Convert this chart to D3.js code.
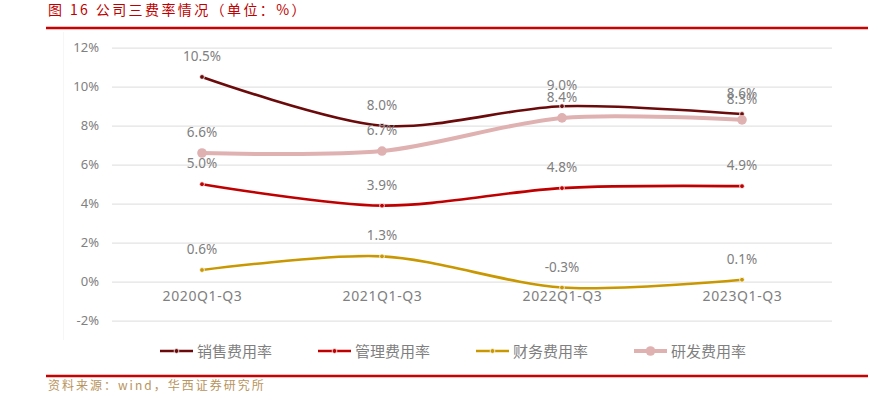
<!DOCTYPE html>
<html>
<head>
<meta charset="utf-8">
<script src="https://cdn.jsdelivr.net/npm/d3@7"></script>
<style>
  body { margin: 0; background: #fff; }
  svg { display: block; }
  text { font-family: "Noto Sans", "Noto Sans CJK SC", sans-serif; }
  .cjk { font-family: "Noto Sans CJK SC", sans-serif; }
</style>
</head>
<body>
<div class="svg-content"></div>
<script>
const periods = ["2020Q1-Q3", "2021Q1-Q3", "2022Q1-Q3", "2023Q1-Q3"];
const salesRate = [10.5, 8.0, 9.0, 8.6];
const adminRate = [5.0, 3.9, 4.8, 4.9];
const financeRate = [0.6, 1.3, -0.3, 0.1];
const rdRate = [6.6, 6.7, 8.4, 8.3];
const seriesNames = ["销售费用率", "管理费用率", "财务费用率", "研发费用率"];
const yTicks = [-2, 0, 2, 4, 6, 8, 10, 12];

const svgWidth = 890;
const svgHeight = 397;

const series = [
  { name: seriesNames[0], values: salesRate, color: "#6b0a0a", width: 2.6, r: 2.4 },
  { name: seriesNames[1], values: adminRate, color: "#c00000", width: 2.6, r: 2.4 },
  { name: seriesNames[2], values: financeRate, color: "#c99700", width: 2.6, r: 2.4 },
  { name: seriesNames[3], values: rdRate, color: "#dfb1b1", width: 4, r: 4.8 }
];

let svg = d3.select(".svg-content")
            .append("svg")
            .attr("width", svgWidth)
            .attr("height", svgHeight);

// title + red rules
svg.append("text")
   .attr("class", "cjk")
   .attr("x", 48)
   .attr("y", 15)
   .attr("fill", "#c00000")
   .style("font-size", "14px")
   .style("letter-spacing", "2.4px")
   .text("图 16 公司三费率情况（单位：%）");

svg.append("line")
   .attr("x1", 46).attr("x2", 868)
   .attr("y1", 28).attr("y2", 28)
   .attr("stroke", "#cc0000")
   .attr("stroke-width", 2.5);

svg.append("line")
   .attr("x1", 46).attr("x2", 868)
   .attr("y1", 376).attr("y2", 376)
   .attr("stroke", "#cc0000")
   .attr("stroke-width", 2.5);

svg.append("text")
   .attr("class", "cjk")
   .attr("x", 48)
   .attr("y", 390)
   .attr("fill", "#b8945e")
   .style("font-size", "12px")
   .style("letter-spacing", "2px")
   .text("资料来源：wind，华西证券研究所");

// faint plot frame edge
svg.append("line")
   .attr("x1", 63.5).attr("x2", 63.5)
   .attr("y1", 32).attr("y2", 340)
   .attr("stroke", "#f6f6f6");

const xScale = d3.scalePoint()
                 .domain(periods)
                 .range([112, 832])
                 .padding(0.5);

const yScale = d3.scaleLinear()
                 .domain([-2, 12])
                 .range([320.7, 47.7]);

const yAxis = d3.axisLeft(yScale)
                .tickValues(yTicks)
                .tickSize(-(832 - 112))
                .tickPadding(13)
                .tickFormat(d => d + "%");

let yG = svg.append("g")
            .attr("transform", "translate(112,0)")
            .call(yAxis);
yG.select(".domain").remove();
yG.selectAll(".tick line")
  .attr("stroke", "#e3e3e3")
  .attr("stroke-width", 1.2);
yG.selectAll(".tick text")
  .attr("fill", "#808080")
  .style("font-family", "'Noto Sans', sans-serif")
  .style("font-size", "13px");

const xAxis = d3.axisBottom(xScale).tickSize(0).tickPadding(9);
let xG = svg.append("g")
            .attr("transform", "translate(0," + yScale(0) + ")")
            .call(xAxis);
xG.select(".domain").remove();
xG.selectAll(".tick text")
  .attr("fill", "#808080")
  .style("font-family", "'Noto Sans', sans-serif")
  .style("font-size", "14px")
  .style("letter-spacing", "0.6px");

const line = d3.line()
               .x((d, i) => xScale(periods[i]))
               .y(d => yScale(d))
               .curve(d3.curveCardinal.tension(0.1));

series.forEach(s => {
  svg.append("path")
     .datum(s.values)
     .attr("fill", "none")
     .attr("stroke", s.color)
     .attr("stroke-width", s.width)
     .attr("d", line);

  svg.selectAll(null)
     .data(s.values)
     .enter()
     .append("circle")
     .attr("cx", (d, i) => xScale(periods[i]))
     .attr("cy", d => yScale(d))
     .attr("r", s.r)
     .attr("fill", s.color)
     .attr("stroke", "#fff")
     .attr("stroke-width", s.r > 3 ? 0 : 0.8);
});

// data labels
series.forEach(s => {
  svg.selectAll(null)
     .data(s.values)
     .enter()
     .append("text")
     .attr("x", (d, i) => xScale(periods[i]))
     .attr("y", d => yScale(d) - 16)
     .attr("text-anchor", "middle")
     .attr("fill", "#808080")
     .style("font-family", "'Noto Sans', sans-serif")
     .style("font-size", "13.5px")
     .text(d => d.toFixed(1) + "%");
});

// legend
const legendX = [160, 318, 476, 634];
series.forEach((s, i) => {
  let g = svg.append("g").attr("transform", "translate(" + legendX[i] + ",351)");
  g.append("line")
   .attr("x1", 0).attr("x2", 33)
   .attr("y1", 0).attr("y2", 0)
   .attr("stroke", s.color)
   .attr("stroke-width", s.width);
  g.append("circle")
   .attr("cx", 16.5).attr("cy", 0)
   .attr("r", s.r)
   .attr("fill", s.color)
   .attr("stroke", "#fff")
   .attr("stroke-width", s.r > 3 ? 0 : 0.8);
  g.append("text")
   .attr("class", "cjk")
   .attr("x", 37)
   .attr("y", 5.5)
   .attr("fill", "#7f7f7f")
   .style("font-size", "15px")
   .text(s.name);
});
</script>
</body>
</html>
